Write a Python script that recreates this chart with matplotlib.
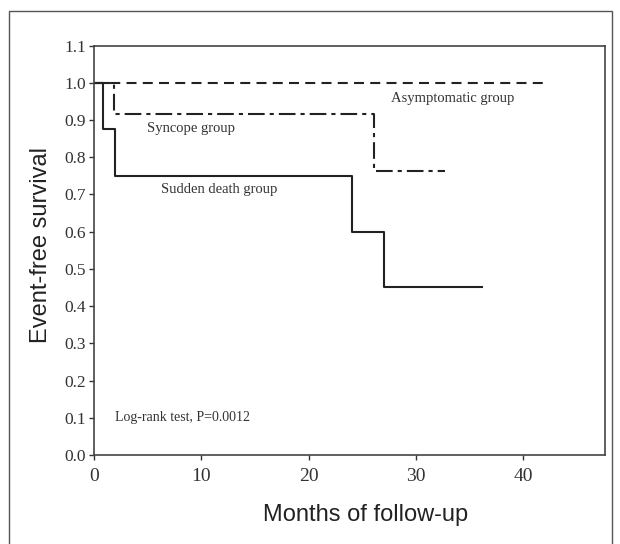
import matplotlib
matplotlib.use('Agg')
import matplotlib.pyplot as plt
from matplotlib.patches import Rectangle

# Kaplan-Meier step curves (months, survival)
sudden_t = [0, 0.85, 1.95, 24.0, 27.0, 36.1]
sudden_s = [1.0, 0.875, 0.75, 0.60, 0.45, 0.45]
syncope_t = [0, 1.9, 26.1, 32.7]
syncope_s = [1.0, 0.917, 0.764, 0.764]
asympt_t = [0, 42.1]
asympt_s = [1.0, 1.0]

xticks = [0, 10, 20, 30, 40]
yticks = [0.0, 0.1, 0.2, 0.3, 0.4, 0.5, 0.6, 0.7, 0.8, 0.9, 1.0, 1.1]

serif = ['Liberation Serif', 'DejaVu Serif']
sans = ['Liberation Sans', 'DejaVu Sans']

fig = plt.figure(figsize=(6.2, 5.44), dpi=100)
ax = fig.add_axes([94/620, 1-455/544, (605-94)/620, (455-45.5)/544])

# outer frame of the figure panel
fig.patches.append(Rectangle((8.7/620, -0.05), (612-8.7)/620, 1.05-10.5/544,
                             transform=fig.transFigure, fill=False,
                             edgecolor='#555555', linewidth=1.0))

ax.step(asympt_t, asympt_s, where='post', color='#222222', lw=1.5,
        dashes=(4.8, 3.0))
ax.step(syncope_t, syncope_s, where='post', color='#222222', lw=1.5,
        dashes=(8, 2.4, 2, 2.4))
ax.step(sudden_t, sudden_s, where='post', color='#222222', lw=1.5)

ax.set_xlim(0, 47.6)
ax.set_ylim(0, 1.1)
ax.set_xticks(xticks)
ax.set_yticks(yticks)
ax.set_xticklabels([str(v) for v in xticks], family=serif, fontsize=14)
ax.set_yticklabels(['%.1f' % v for v in yticks], family=serif, fontsize=12.5)
ax.tick_params(direction='out', length=3.5, width=1, colors='#333333')
ax.tick_params(axis='y', pad=2)
ax.tick_params(axis='x', pad=6)
for sp in ax.spines.values():
    sp.set_color('#444444')
    sp.set_linewidth(1.2)

ax.text(27.7, 0.958, 'Asymptomatic group', family=serif, fontsize=10.5,
        color='#333333', va='center')
ax.text(4.9, 0.878, 'Syncope group', family=serif, fontsize=10.5,
        color='#333333', va='center')
ax.text(6.2, 0.714, 'Sudden death group', family=serif, fontsize=10.5,
        color='#333333', va='center')
ax.text(2.0, 0.10, 'Log-rank test, P=0.0012', family=serif, fontsize=10,
        color='#333333', va='center')

fig.text(366/620, 1-515/544, 'Months of follow-up', family=sans, fontsize=17,
         color='#222222', ha='center', va='center')
fig.text(41/620, 1-245/544, 'Event-free survival', family=sans, fontsize=17,
         color='#222222', ha='center', va='center', rotation=90)

fig.savefig('out.png', dpi=100)
